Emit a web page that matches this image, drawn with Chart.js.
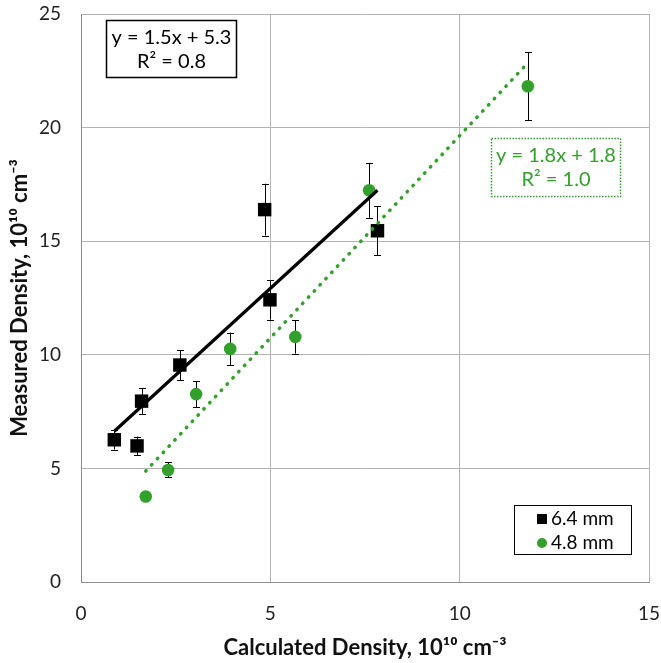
<!DOCTYPE html>
<html>
<head>
<meta charset="utf-8">
<script src="https://cdn.jsdelivr.net/npm/chart.js@4"></script>
<style>
html,body{margin:0;padding:0;background:#fff;}
#wrap{width:661px;height:663px;}
</style>
</head>
<body>
<div id="wrap"><canvas id="c" width="661" height="663"></canvas></div>
<script>
// ---- data ----
const xTicks = [0, 5, 10, 15];
const yTicks = [0, 5, 10, 15, 20, 25];
const sqX   = [0.88, 1.48, 1.60, 2.61, 4.85, 4.99, 7.83];
const sqY   = [6.26, 5.99, 7.96, 9.55, 16.39, 12.42, 15.46];
const sqErr = [0.43, 0.41, 0.56, 0.66, 1.14, 0.87, 1.08];
const ciX   = [1.71, 2.30, 3.04, 3.94, 5.66, 7.61, 11.80];
const ciY   = [3.76, 4.93, 8.27, 10.26, 10.79, 17.24, 21.82];
const ciErr = [0.17, 0.33, 0.57, 0.72, 0.74, 1.21, 1.50];
const seriesNames = ['6.4 mm', '4.8 mm'];
const xTitle = 'Calculated Density, 10¹⁰ cm⁻³';
const yTitle = 'Measured Density, 10¹⁰ cm⁻³';

const GREEN = '#33a02c';
const FONT = 'Lato, "Open Sans", sans-serif';

function fit(xs, ys) {
  const n = xs.length;
  const mx = xs.reduce((a, b) => a + b, 0) / n;
  const my = ys.reduce((a, b) => a + b, 0) / n;
  let sxy = 0, sxx = 0, syy = 0;
  for (let i = 0; i < n; i++) {
    sxy += (xs[i] - mx) * (ys[i] - my);
    sxx += (xs[i] - mx) ** 2;
    syy += (ys[i] - my) ** 2;
  }
  const m = sxy / sxx, b = my - m * mx;
  return { m, b, r2: sxy * sxy / (sxx * syy), x0: Math.min(...xs), x1: Math.max(...xs) };
}
const fSq = fit(sqX, sqY);
const fCi = fit(ciX, ciY);
const pts = (xs, ys) => xs.map((x, i) => ({ x, y: ys[i] }));
const lineOf = f => [{ x: f.x0, y: f.m * f.x0 + f.b }, { x: f.x1, y: f.m * f.x1 + f.b }];
const eqText = f => ['y = ' + f.m.toFixed(1) + 'x + ' + f.b.toFixed(1), 'R² = ' + f.r2.toFixed(1)];

const extras = {
  id: 'extras',
  beforeDatasetsDraw(chart) {
    const { ctx, scales: { x, y } } = chart;
    ctx.save();
    ctx.strokeStyle = '#000';
    ctx.lineWidth = 1;
    const draw = (xs, ys, es) => {
      xs.forEach((xv, i) => {
        const px = Math.round(x.getPixelForValue(xv)) + 0.5;
        const t = y.getPixelForValue(ys[i] + es[i]);
        const b = y.getPixelForValue(ys[i] - es[i]);
        ctx.beginPath();
        ctx.moveTo(px, t); ctx.lineTo(px, b);
        ctx.moveTo(px - 3.5, Math.round(t) + 0.5); ctx.lineTo(px + 3.5, Math.round(t) + 0.5);
        ctx.moveTo(px - 3.5, Math.round(b) + 0.5); ctx.lineTo(px + 3.5, Math.round(b) + 0.5);
        ctx.stroke();
      });
    };
    draw(sqX, sqY, sqErr);
    draw(ciX, ciY, ciErr);
    ctx.restore();
  },
  afterDraw(chart) {
    const { ctx } = chart;
    ctx.save();
    // equation box, black
    ctx.font = '20px ' + FONT;
    ctx.textAlign = 'center';
    ctx.textBaseline = 'middle';
    ctx.fillStyle = '#fff';
    ctx.fillRect(106, 20, 131, 57);
    ctx.strokeStyle = '#000';
    ctx.lineWidth = 1.5;
    ctx.strokeRect(106.5, 20.5, 130, 57);
    ctx.fillStyle = '#000';
    const e1 = eqText(fSq);
    ctx.fillText(e1[0], 171.5, 38);
    ctx.fillText(e1[1], 171.5, 62);
    // equation box, green
    ctx.fillStyle = '#fff';
    ctx.fillRect(491, 138, 130, 59);
    ctx.strokeStyle = GREEN;
    ctx.lineWidth = 1.5;
    ctx.setLineDash([1.5, 1.5]);
    ctx.strokeRect(491.5, 138.5, 129, 58);
    ctx.setLineDash([]);
    ctx.fillStyle = GREEN;
    const e2 = eqText(fCi);
    ctx.fillText(e2[0], 556, 156);
    ctx.fillText(e2[1], 556, 180);
    // legend
    ctx.fillStyle = '#fff';
    ctx.fillRect(514, 505, 118, 50);
    ctx.strokeStyle = '#000';
    ctx.lineWidth = 1;
    ctx.strokeRect(514.5, 505.5, 117, 49);
    ctx.fillStyle = '#000';
    ctx.fillRect(537, 514, 10, 10);
    ctx.fillStyle = GREEN;
    ctx.beginPath(); ctx.arc(542, 543, 5, 0, Math.PI * 2); ctx.fill();
    ctx.fillStyle = '#000';
    ctx.textAlign = 'left';
    ctx.font = '19px ' + FONT;
    ctx.fillText(seriesNames[0], 551, 519);
    ctx.fillText(seriesNames[1], 551, 543);
    ctx.restore();
  }
};

new Chart(document.getElementById('c'), {
  type: 'scatter',
  data: {
    datasets: [
      { label: seriesNames[0], data: pts(sqX, sqY), pointStyle: 'rect', pointRadius: 9.5, pointHoverRadius: 9.5,
        backgroundColor: '#000', borderColor: '#000', borderWidth: 0, order: 2 },
      { label: seriesNames[1], data: pts(ciX, ciY), pointStyle: 'circle', pointRadius: 6.3, pointHoverRadius: 6.3,
        backgroundColor: GREEN, borderColor: GREEN, borderWidth: 0, order: 2 },
      { type: 'line', label: 'trend1', data: lineOf(fSq), borderColor: '#000', borderWidth: 3.2,
        pointRadius: 0, fill: false, order: 1 },
      { type: 'line', label: 'trend2', data: lineOf(fCi), borderColor: GREEN, borderWidth: 3.5,
        borderDash: [0.5, 8], borderCapStyle: 'round', pointRadius: 0, fill: false, order: 0 }
    ]
  },
  options: {
    responsive: false,
    animation: false,
    events: [],
    layout: { padding: { left: 0, right: 12, top: 14, bottom: 0 } },
    plugins: { legend: { display: false }, tooltip: { enabled: false } },
    scales: {
      x: {
        type: 'linear', min: 0, max: 15,
        afterFit(s) { s.height = 81; s.paddingLeft = 0; s.paddingRight = 0; },
        afterBuildTicks(s) { s.ticks = xTicks.map(v => ({ value: v })); },
        grid: { color: '#b3b3b3', lineWidth: 1, drawTicks: false },
        border: { color: '#8c8c8c', width: 1 },
        ticks: { padding: 20, color: '#222', font: { family: FONT, size: 19 } },
        title: { display: true, text: xTitle, color: '#111', padding: { top: 0, bottom: 2 },
                 font: { family: FONT, size: 22, weight: 'bold' } }
      },
      y: {
        type: 'linear', min: 0, max: 25,
        afterFit(s) { s.width = 81; s.paddingTop = 0; s.paddingBottom = 0; },
        afterBuildTicks(s) { s.ticks = yTicks.map(v => ({ value: v })); },
        grid: { color: '#b3b3b3', lineWidth: 1, drawTicks: false },
        border: { color: '#8c8c8c', width: 1 },
        ticks: { padding: 20, color: '#222', font: { family: FONT, size: 19 } },
        title: { display: true, text: yTitle, color: '#111', padding: { top: 7, bottom: 0 },
                 font: { family: FONT, size: 22, weight: 'bold' } }
      }
    }
  },
  plugins: [extras]
});
</script>
</body>
</html>
